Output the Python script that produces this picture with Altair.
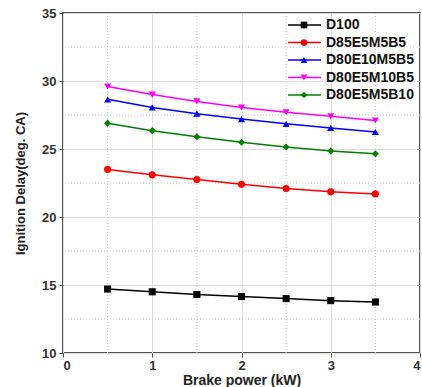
import altair as alt
import pandas as pd

x_vals = [0.5, 1.0, 1.5, 2.0, 2.5, 3.0, 3.5]
series_names = ["D100", "D85E5M5B5", "D80E10M5B5", "D80E5M10B5", "D80E5M5B10"]
d100 = [14.7, 14.5, 14.3, 14.15, 14.0, 13.85, 13.75]
d85 = [23.5, 23.1, 22.75, 22.4, 22.1, 21.85, 21.7]
d80e10 = [28.65, 28.05, 27.6, 27.2, 26.85, 26.55, 26.25]
d80m10 = [29.6, 29.0, 28.5, 28.05, 27.7, 27.4, 27.1]
d80b10 = [26.9, 26.35, 25.9, 25.5, 25.15, 24.85, 24.65]
series_values = [d100, d85, d80e10, d80m10, d80b10]
colors = ["#000000", "#ff0000", "#0000ff", "#ff00ff", "#008000"]
shapes = ["square", "circle", "triangle-up", "triangle-down", "diamond"]
minor_x = [0.5, 1.5, 2.5, 3.5]
minor_y = [12.5, 17.5, 22.5, 27.5, 32.5]
x_ticks = [0, 1, 2, 3, 4]
y_ticks = [10, 15, 20, 25, 30, 35]

rows = []
for name, vals in zip(series_names, series_values):
    for xv, yv in zip(x_vals, vals):
        rows.append({"series": name, "x": xv, "y": yv})
df = pd.DataFrame(rows)

FONT = "Liberation Sans"
XT = "Brake power (kW)"
YT = "Ignition Delay(deg. CA)"
xs = alt.Scale(domain=[0, 4], nice=False)
ys = alt.Scale(domain=[10, 35], nice=False)
cs = alt.Scale(domain=series_names, range=colors)
ss = alt.Scale(domain=series_names, range=shapes)

xaxis = alt.Axis(values=x_ticks, format="d", grid=True, gridColor="#dddddd",
                 domain=False, tickColor="#444", tickSize=4, labelFontSize=13,
                 labelFontWeight="bold", labelFont=FONT, labelColor="#333",
                 titleFont=FONT, titleFontSize=14, titleFontWeight="bold",
                 titleColor="#222", titlePadding=1, labelPadding=2)
yaxis = alt.Axis(values=y_ticks, grid=True, gridColor="#dddddd",
                 domain=False, tickColor="#444", tickSize=4, labelFontSize=13,
                 labelFontWeight="bold", labelFont=FONT, labelColor="#333",
                 titleFont=FONT, titleFontSize=13, titleFontWeight="bold",
                 titleColor="#222", titlePadding=14, labelPadding=3)

base = alt.Chart(df).encode(
    x=alt.X("x:Q", scale=xs, title=XT, axis=xaxis),
    y=alt.Y("y:Q", scale=ys, title=YT, axis=yaxis),
    color=alt.Color("series:N", scale=cs, legend=None),
)
lines = base.mark_line(strokeWidth=1.5)
points = base.mark_point(filled=True, size=50, opacity=1).encode(
    shape=alt.Shape("series:N", scale=ss, legend=None))

minor_vx = alt.Chart(pd.DataFrame({"v": minor_x})).mark_rule(
    color="#cccccc", strokeDash=[1, 2], strokeWidth=1
).encode(x=alt.X("v:Q", scale=xs, title=XT, axis=xaxis))
minor_hy = alt.Chart(pd.DataFrame({"v": minor_y})).mark_rule(
    color="#cccccc", strokeDash=[1, 2], strokeWidth=1
).encode(y=alt.Y("v:Q", scale=ys, title=YT, axis=yaxis))

main = alt.layer(minor_vx, minor_hy, lines, points)

leg_df = pd.DataFrame({"series": series_names})
ly = alt.Y("series:N", sort=series_names,
           scale=alt.Scale(type="point", range=[12, 82], padding=0), axis=None)
leg_rule = alt.Chart(leg_df).mark_rule(strokeWidth=1.5).encode(
    y=ly, x=alt.value(225), x2=alt.value(258),
    color=alt.Color("series:N", scale=cs, legend=None))
leg_pt = alt.Chart(leg_df).mark_point(filled=True, size=45, opacity=1).encode(
    y=ly, x=alt.value(241),
    color=alt.Color("series:N", scale=cs, legend=None),
    shape=alt.Shape("series:N", scale=ss, legend=None))
leg_txt = alt.Chart(leg_df).mark_text(
    align="left", baseline="middle", font=FONT, fontSize=14, fontWeight="bold", color="#111"
).encode(y=ly, x=alt.value(263), text="series:N")
legend = alt.layer(leg_rule, leg_pt, leg_txt)

chart = alt.layer(main, legend).resolve_scale(
    y="independent"
).properties(
    width=357, height=340,
    padding={"left": 63, "top": 13, "right": 2, "bottom": 34},
    autosize=alt.AutoSizeParams(type="none"),
).configure_view(stroke="#555555", strokeWidth=2)

chart.save("out.html", embed_options={"renderer": "svg", "actions": False})
